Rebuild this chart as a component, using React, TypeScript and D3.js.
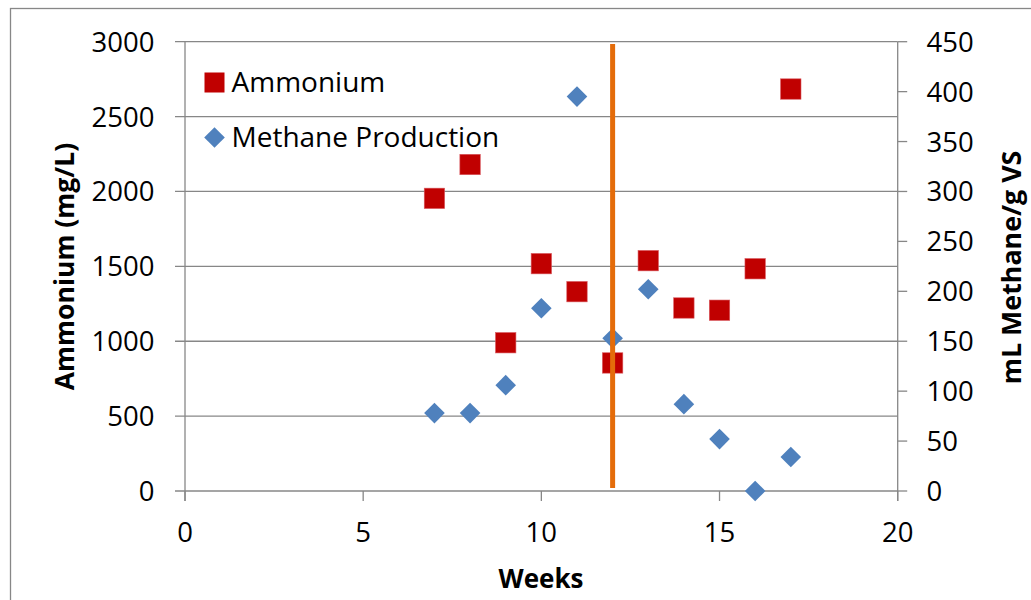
import React, { useEffect, useRef } from 'react';
import * as d3 from 'd3';

// Data
const weeks = [7, 8, 9, 10, 11, 12, 13, 14, 15, 16, 17];
const ammonium = [1954, 2180, 990, 1518, 1331, 855, 1538, 1222, 1207, 1484, 2684];
const methane = [78, 78, 106, 183, 395, 153, 202, 87, 52, 0, 34];

const xTicks = [0, 5, 10, 15, 20];
const leftTicks = [0, 500, 1000, 1500, 2000, 2500, 3000];
const rightTicks = [0, 50, 100, 150, 200, 250, 300, 350, 400, 450];

// vertical marker at week 12
const markerWeek = 12;
const markerRange = [20, 2985];

const W = 1031;
const H = 600;
const FONT = "'Open Sans', 'Noto Sans', sans-serif";
const GRID = '#878787';
const RED = '#C00000';
const BLUE = '#4F81BD';
const ORANGE = '#E46C0A';

const App: React.FC = () => {
  const svgRef = useRef<SVGSVGElement>(null);

  useEffect(() => {
    if (!svgRef.current) return;
    const svg = d3.select(svgRef.current);
    svg.selectAll('*').remove();

    const left = 185, right = 897.7, top = 41.7, bottom = 491;

    const x = d3.scaleLinear().domain([0, 20]).range([left, right]);
    const yL = d3.scaleLinear().domain([0, 3000]).range([bottom, top]);
    const yR = d3.scaleLinear().domain([0, 450]).range([bottom, top]);

    // chart border
    svg.append('rect')
      .attr('x', 10.5).attr('y', 8.5)
      .attr('width', W).attr('height', H)
      .attr('fill', 'white')
      .attr('stroke', GRID).attr('stroke-width', 1.3);

    // grid lines
    svg.append('g')
      .selectAll('line')
      .data(leftTicks)
      .enter().append('line')
      .attr('x1', left - 10).attr('x2', right)
      .attr('y1', d => yL(d)).attr('y2', d => yL(d))
      .attr('stroke', GRID).attr('stroke-width', 1.3);

    // axis lines
    svg.append('line')
      .attr('x1', left).attr('x2', left)
      .attr('y1', top).attr('y2', bottom + 10)
      .attr('stroke', GRID).attr('stroke-width', 1.3);
    svg.append('line')
      .attr('x1', right).attr('x2', right)
      .attr('y1', top).attr('y2', bottom + 10)
      .attr('stroke', GRID).attr('stroke-width', 1.3);

    // x ticks
    svg.append('g')
      .selectAll('line')
      .data(xTicks)
      .enter().append('line')
      .attr('x1', d => x(d)).attr('x2', d => x(d))
      .attr('y1', bottom).attr('y2', bottom + 10)
      .attr('stroke', GRID).attr('stroke-width', 1.3);

    // right ticks
    svg.append('g')
      .selectAll('line')
      .data(rightTicks)
      .enter().append('line')
      .attr('x1', right).attr('x2', right + 9.5)
      .attr('y1', d => yR(d)).attr('y2', d => yR(d))
      .attr('stroke', GRID).attr('stroke-width', 1.3);

    // tick labels
    svg.append('g')
      .selectAll('text')
      .data(xTicks)
      .enter().append('text')
      .attr('x', d => x(d)).attr('y', 542)
      .attr('text-anchor', 'middle')
      .style('font-family', FONT).style('font-size', '27.5px')
      .text(d => d);

    svg.append('g')
      .selectAll('text')
      .data(leftTicks)
      .enter().append('text')
      .attr('x', 154.5).attr('y', d => yL(d) + 10)
      .attr('text-anchor', 'end')
      .style('font-family', FONT).style('font-size', '27.5px')
      .text(d => d);

    svg.append('g')
      .selectAll('text')
      .data(rightTicks)
      .enter().append('text')
      .attr('x', 926.5).attr('y', d => yR(d) + 10)
      .attr('text-anchor', 'start')
      .style('font-family', FONT).style('font-size', '27.5px')
      .text(d => d);

    // axis titles
    svg.append('text')
      .attr('x', 541).attr('y', 588)
      .attr('text-anchor', 'middle')
      .style('font-family', FONT).style('font-size', '26px').style('font-weight', 700)
      .text('Weeks');

    svg.append('text')
      .attr('transform', 'translate(74,266.5) rotate(-90)')
      .attr('text-anchor', 'middle')
      .style('font-family', FONT).style('font-size', '26.5px').style('font-weight', 700)
      .text('Ammonium (mg/L)');

    svg.append('text')
      .attr('transform', 'translate(1020.5,267.5) rotate(-90)')
      .attr('text-anchor', 'middle')
      .style('font-family', FONT).style('font-size', '26.8px').style('font-weight', 700)
      .text('mL Methane/g VS');

    const diamond = 'M0,-10.3L10.3,0L0,10.3L-10.3,0Z';

    // methane (right axis)
    svg.append('g')
      .selectAll('path')
      .data(weeks)
      .enter().append('path')
      .attr('d', diamond)
      .attr('transform', (d, i) => `translate(${x(d)},${yR(methane[i])})`)
      .attr('fill', BLUE);

    // ammonium (left axis)
    svg.append('g')
      .selectAll('rect')
      .data(weeks)
      .enter().append('rect')
      .attr('x', d => x(d) - 10.2)
      .attr('y', (d, i) => yL(ammonium[i]) - 10.2)
      .attr('width', 20.4).attr('height', 20.4)
      .attr('fill', RED)
      .attr('stroke', '#d9595f').attr('stroke-width', 0.6);

    // vertical marker line
    svg.append('line')
      .attr('x1', x(markerWeek)).attr('x2', x(markerWeek))
      .attr('y1', yL(markerRange[0])).attr('y2', yL(markerRange[1]))
      .attr('stroke', ORANGE).attr('stroke-width', 5);

    // legend
    const lg = svg.append('g');
    lg.append('rect')
      .attr('x', 204.5).attr('y', 72.5)
      .attr('width', 20).attr('height', 20)
      .attr('fill', RED);
    lg.append('text')
      .attr('x', 231.5).attr('y', 92)
      .style('font-family', FONT).style('font-size', '28px')
      .text('Ammonium');
    lg.append('path')
      .attr('d', diamond)
      .attr('transform', 'translate(214.5,137.5)')
      .attr('fill', BLUE);
    lg.append('text')
      .attr('x', 231.5).attr('y', 147)
      .style('font-family', FONT).style('font-size', '28px')
      .text('Methane Production');
  }, []);

  return (
    <div style={{ position: 'absolute', left: 0, top: 0, width: W, height: H, background: 'white' }}>
      <svg ref={svgRef} width={W} height={H} style={{ display: 'block' }} />
    </div>
  );
};

export default App;
